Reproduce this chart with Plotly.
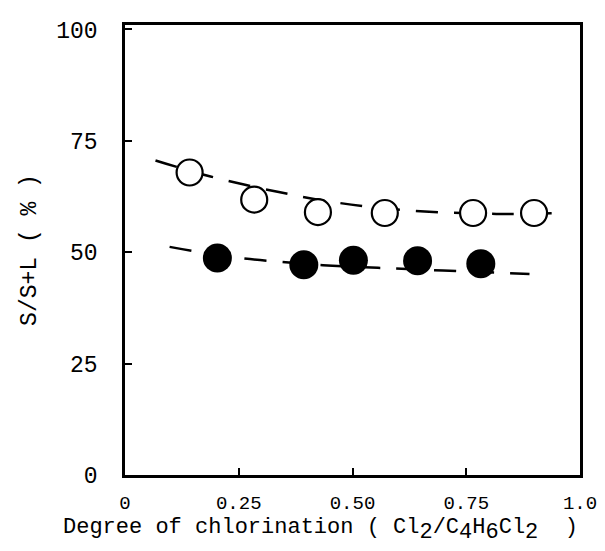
import plotly.graph_objects as go

# Open circles series
open_x = [0.142, 0.284, 0.424, 0.571, 0.765, 0.899]
open_y = [67.9, 61.8, 59.0, 58.8, 58.8, 58.8]

# Filled circles series
filled_x = [0.203, 0.393, 0.502, 0.643, 0.782]
filled_y = [48.7, 47.2, 48.2, 48.1, 47.4]

# Dashed trend curves
upper_curve_x = [0.067, 0.188, 0.338, 0.468, 0.622, 0.816, 0.966]
upper_curve_y = [70.6, 67.0, 63.5, 61.1, 59.4, 58.6, 58.8]
lower_curve_x = [0.098, 0.237, 0.435, 0.556, 0.699, 0.889]
lower_curve_y = [51.2, 48.9, 47.1, 46.5, 45.9, 45.1]

x_tickvals = [0, 0.25, 0.5, 0.75, 1.0]
x_ticktext = ["0", "0.25", "0.50", "0.75", "1.0"]
y_tickvals = [0, 25, 50, 75, 100]
y_ticktext = ["0", "25", "50", "75", "100"]

FONT = "Liberation Mono, Courier New, monospace"


def sub(t):
    return "<sub><span style='font-size:22px'>" + t + "</span></sub>"


x_title = ("Degree of chlorination ( Cl" + sub("2") + "/C" + sub("4") + "H" + sub("6")
           + "Cl" + sub("2") + "  )")

fig = go.Figure()
fig.add_trace(go.Scatter(x=upper_curve_x, y=upper_curve_y, mode="lines",
                         line=dict(color="black", width=2.5, dash="22px,16px", shape="spline"),
                         hoverinfo="skip", showlegend=False))
fig.add_trace(go.Scatter(x=lower_curve_x, y=lower_curve_y, mode="lines",
                         line=dict(color="black", width=2.5, dash="22px,16px", shape="spline"),
                         hoverinfo="skip", showlegend=False))
fig.add_trace(go.Scatter(x=open_x, y=open_y, mode="markers",
                         marker=dict(symbol="circle", size=26, color="white",
                                     line=dict(color="black", width=2.2)),
                         showlegend=False))
fig.add_trace(go.Scatter(x=filled_x, y=filled_y, mode="markers",
                         marker=dict(symbol="circle", size=29, color="black",
                                     line=dict(color="black", width=0)),
                         showlegend=False))

fig.add_annotation(text=x_title, xref="paper", yref="paper",
                   x=0.4286, y=-0.122, xanchor="center", yanchor="middle",
                   showarrow=False, font=dict(family=FONT, size=22, color="black"))

fig.update_layout(
    width=605, height=551,
    margin=dict(l=117, r=33, t=17, b=84, autoexpand=False),
    paper_bgcolor="white", plot_bgcolor="white",
    font=dict(family=FONT, color="black"),
    xaxis=dict(range=[0, 1.0], tickvals=x_tickvals, ticktext=x_ticktext,
               automargin=False,
               showgrid=False, zeroline=False, showline=True, mirror=True,
               linecolor="black", linewidth=2.5,
               ticks="inside", ticklen=7, tickwidth=2, tickcolor="black",
               ticklabelstandoff=8,
               tickfont=dict(family=FONT, size=19)),
    yaxis=dict(range=[0, 101], tickvals=y_tickvals, ticktext=y_ticktext,
               automargin=False,
               showgrid=False, zeroline=False, showline=True, mirror=True,
               linecolor="black", linewidth=2.5,
               ticks="inside", ticklen=7, tickwidth=2, tickcolor="black",
               ticklabelstandoff=20,
               tickfont=dict(family=FONT, size=23),
               title=dict(text="S/S+L ( % )", font=dict(family=FONT, size=23), standoff=14)),
)

fig.write_html("out.html")
